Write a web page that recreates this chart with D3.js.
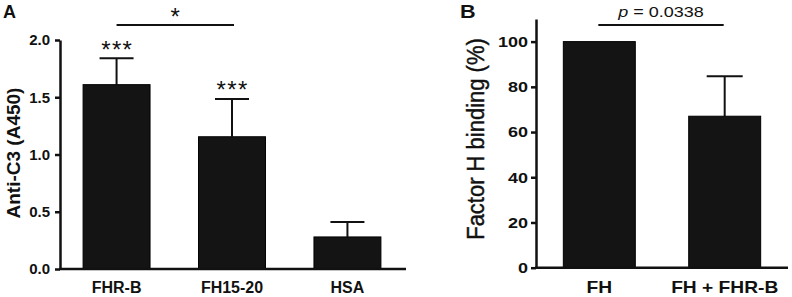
<!DOCTYPE html>
<html lang="en">
<head>
<meta charset="utf-8">
<title>Anti-C3 and Factor H binding</title>
<script src="https://cdn.jsdelivr.net/npm/d3@7"></script>
<style>
  body { margin: 0; background: #fff; }
  svg text { font-family: "Liberation Sans", Arial, sans-serif; fill: #111; }
  .axis path, .axis line { stroke: #111; stroke-width: 2.5; }
  .axis text { font-size: 15px; font-weight: bold; }
  .cat text { font-size: 16px; font-weight: bold; }
</style>
</head>
<body>
<script>
// panel A data
var catsA = ["FHR-B", "FH15-20", "HSA"];
var meanA = [1.61, 1.155, 0.28];
var sdA = [0.23, 0.33, 0.13];
var ticksA = [0, 0.5, 1.0, 1.5, 2.0];
var starsA = ["***", "***", ""];

// panel B data
var catsB = ["FH", "FH + FHR-B"];
var meanB = [100, 67];
var sdB = [0, 17.7];
var ticksB = [0, 20, 40, 60, 80, 100];

var W = 792, H = 297;
var svg = d3.select("body").append("svg").attr("width", W).attr("height", H);

// ---------- panel A ----------
var xA = d3.scaleBand().domain(catsA).range([60, 404]).paddingInner(0.42).paddingOuter(0.2);
var yA = d3.scaleLinear().domain([0, 2]).range([269, 40]);

var gA = svg.append("g");

// error bars first, bar drawn over the lower half
catsA.forEach(function (c, i) {
  var cx = xA(c) + xA.bandwidth() / 2;
  gA.append("line").attr("x1", cx).attr("x2", cx)
    .attr("y1", yA(meanA[i])).attr("y2", yA(meanA[i] + sdA[i]))
    .attr("stroke", "#111").attr("stroke-width", 2);
  gA.append("line").attr("x1", cx - 17).attr("x2", cx + 17)
    .attr("y1", yA(meanA[i] + sdA[i])).attr("y2", yA(meanA[i] + sdA[i]))
    .attr("stroke", "#111").attr("stroke-width", 2);
  if (starsA[i]) {
    gA.append("text").attr("x", cx + 0.7).attr("y", yA(meanA[i] + sdA[i]) - 0.5)
      .attr("text-anchor", "middle").style("font-size", "24px").style("letter-spacing", "1.4px")
      .text(starsA[i]);
  }
});

gA.selectAll("rect").data(catsA).enter().append("rect")
  .attr("x", function (d) { return xA(d); })
  .attr("y", function (d, i) { return yA(meanA[i]); })
  .attr("width", xA.bandwidth())
  .attr("height", function (d, i) { return yA(0) - yA(meanA[i]); })
  .attr("fill", "#141414").attr("stroke", "#000").attr("stroke-width", 1);

gA.append("g").attr("class", "axis").attr("transform", "translate(60,0)")
  .call(d3.axisLeft(yA).tickValues(ticksA).tickFormat(d3.format(".1f"))
    .tickSize(5).tickSizeOuter(0).tickPadding(5));

gA.append("line").attr("x1", 59).attr("x2", 406).attr("y1", yA(0)).attr("y2", yA(0))
  .attr("stroke", "#111").attr("stroke-width", 2.5);

gA.append("g").attr("class", "cat").selectAll("text").data(catsA).enter().append("text")
  .attr("x", function (d) { return xA(d) + xA.bandwidth() / 2; })
  .attr("y", 293).attr("text-anchor", "middle").text(function (d) { return d; });

gA.append("text").attr("transform", "translate(20,153) rotate(-90)")
  .attr("text-anchor", "middle").style("font-size", "19px").style("font-weight", "bold")
  .text("Anti-C3 (A450)");

gA.append("text").attr("x", 3).attr("y", 18).style("font-size", "18px").style("font-weight", "bold").text("A");

// significance bracket FHR-B vs FH15-20
var a1 = xA(catsA[0]) + xA.bandwidth() / 2, a2 = xA(catsA[1]) + xA.bandwidth() / 2 + 2;
gA.append("line").attr("x1", a1).attr("x2", a2).attr("y1", 25).attr("y2", 25)
  .attr("stroke", "#111").attr("stroke-width", 1.8);
gA.append("text").attr("x", (a1 + a2) / 2).attr("y", 25).attr("text-anchor", "middle")
  .style("font-size", "24px").text("*");

// ---------- panel B ----------
var xB = d3.scaleBand().domain(catsB).range([536, 788]).paddingInner(0.426).paddingOuter(0.218);
var yB = d3.scaleLinear().domain([0, 110]).range([267.7, 19]);
var sx = 1.2; // panel B is horizontally stretched

var gB = svg.append("g");

catsB.forEach(function (c, i) {
  if (!sdB[i]) return;
  var cx = xB(c) + xB.bandwidth() / 2;
  gB.append("line").attr("x1", cx).attr("x2", cx)
    .attr("y1", yB(meanB[i])).attr("y2", yB(meanB[i] + sdB[i]))
    .attr("stroke", "#111").attr("stroke-width", 2);
  gB.append("line").attr("x1", cx - 18).attr("x2", cx + 18)
    .attr("y1", yB(meanB[i] + sdB[i])).attr("y2", yB(meanB[i] + sdB[i]))
    .attr("stroke", "#111").attr("stroke-width", 2);
});

gB.selectAll("rect").data(catsB).enter().append("rect")
  .attr("x", function (d) { return xB(d); })
  .attr("y", function (d, i) { return yB(meanB[i]); })
  .attr("width", xB.bandwidth())
  .attr("height", function (d, i) { return yB(0) - yB(meanB[i]); })
  .attr("fill", "#141414").attr("stroke", "#000").attr("stroke-width", 1);

var axB = gB.append("g").attr("class", "axis").attr("transform", "translate(536,0)")
  .call(d3.axisLeft(yB).tickValues(ticksB).tickSize(5).tickSizeOuter(0).tickPadding(3));
axB.selectAll(".tick text").attr("transform", "scale(" + sx + ",1)")
  .attr("x", -8 / sx);

gB.append("line").attr("x1", 535).attr("x2", 788).attr("y1", yB(0)).attr("y2", yB(0))
  .attr("stroke", "#111").attr("stroke-width", 2.5);

gB.append("g").attr("class", "cat").selectAll("text").data(catsB).enter().append("text")
  .attr("transform", function (d) {
    return "translate(" + (xB(d) + xB.bandwidth() / 2) + ",293) scale(" + sx + ",1)";
  })
  .attr("text-anchor", "middle").text(function (d) { return d; });

gB.append("text").attr("transform", "translate(484,139) rotate(-90) scale(1,1.1)")
  .attr("text-anchor", "middle").style("font-size", "22px")
  .style("stroke", "#111").style("stroke-width", "0.4px")
  .text("Factor H binding  (%)");

gB.append("text").attr("transform", "translate(460,18) scale(" + sx + ",1)")
  .style("font-size", "18px").style("font-weight", "bold").text("B");

var b1 = xB(catsB[0]) + xB.bandwidth() / 2 - 1, b2 = xB(catsB[1]) + xB.bandwidth() / 2 - 1;
gB.append("line").attr("x1", b1).attr("x2", b2).attr("y1", 25).attr("y2", 25)
  .attr("stroke", "#111").attr("stroke-width", 1.8);
var pt = gB.append("text").attr("transform", "translate(" + ((b1 + b2) / 2) + ",17) scale(" + sx + ",1)")
  .attr("text-anchor", "middle").style("font-size", "15px");
pt.append("tspan").style("font-style", "italic").text("p");
pt.append("tspan").text(" = 0.0338");
</script>
</body>
</html>
